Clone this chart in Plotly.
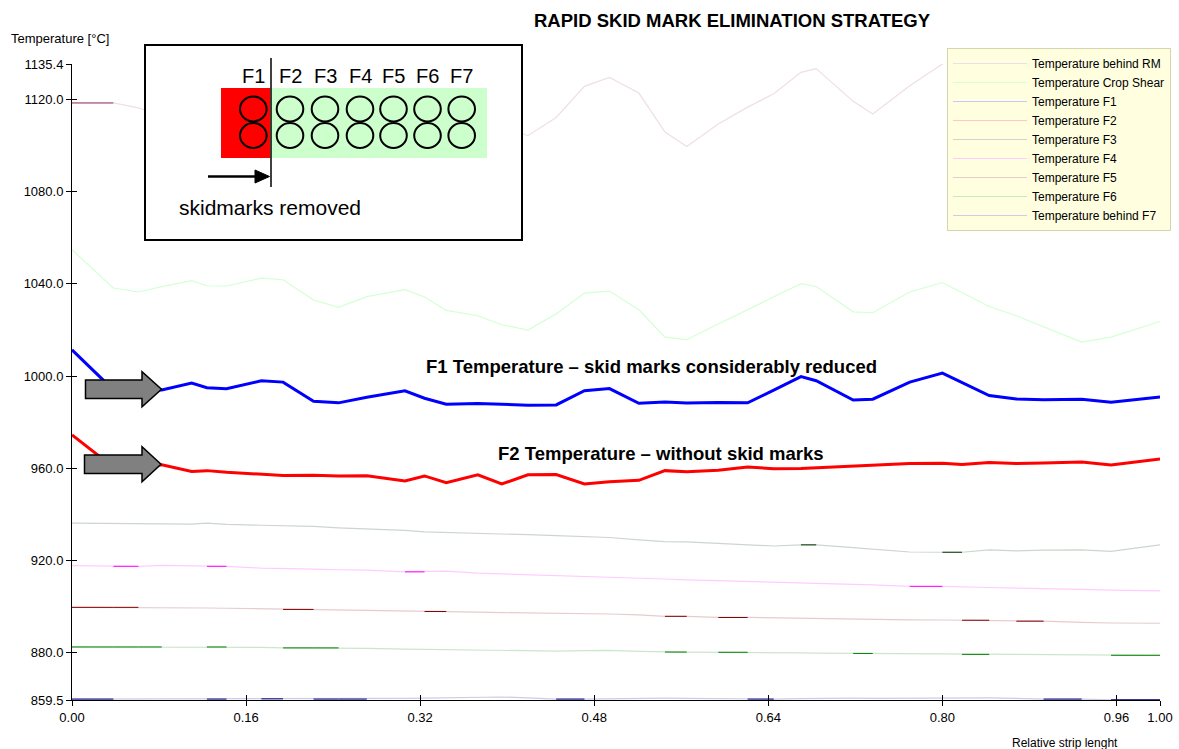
import plotly.graph_objects as go

# ---------------------------------------------------------------- data
# relative strip length at each logged sample
strip_pos = [0.000, 0.038, 0.061, 0.0825, 0.110, 0.124, 0.142, 0.174, 0.194, 0.222,
             0.245, 0.271, 0.306, 0.324, 0.344, 0.373, 0.395, 0.419, 0.445, 0.471,
             0.494, 0.521, 0.545, 0.565, 0.594, 0.621, 0.645, 0.670, 0.684, 0.718,
             0.736, 0.770, 0.800, 0.818, 0.843, 0.868, 0.893, 0.928, 0.955, 1.000]

temp_rm = [1118.5, 1118.5, 1116.4, 1113.0, 1110.5, 1112.0, 1114.5, 1110.0, 1106.5, 1109.0,
           1113.5, 1116.0, 1111.0, 1107.5, 1104.0, 1106.5, 1108.5, 1104.3, 1112.2, 1125.7,
           1129.6, 1122.8, 1105.9, 1099.6, 1109.4, 1116.7, 1122.5, 1131.8, 1133.4, 1119.2,
           1113.7, 1126.0, 1135.4, 1139.0, 1134.0, 1128.0, 1131.0, 1126.0, 1129.0, 1133.0]

temp_crop_shear = [1054.8, 1038.2, 1036.5, 1038.8, 1041.4, 1039.2, 1039.1, 1042.5, 1041.8, 1033.0,
                   1029.8, 1034.5, 1037.5, 1034.3, 1028.5, 1026.2, 1022.3, 1020.0, 1027.0, 1036.0,
                   1036.9, 1028.8, 1016.9, 1015.8, 1022.6, 1028.8, 1034.2, 1040.1, 1038.9, 1027.9,
                   1027.5, 1036.5, 1040.6, 1036.1, 1030.2, 1026.2, 1021.5, 1014.8, 1016.9, 1023.7]

temp_f1 = [1011.4, 994.0, 994.3, 994.0, 997.0, 995.0, 994.5, 998.0, 997.4, 989.1,
           988.4, 990.8, 993.6, 990.4, 987.8, 988.1, 987.8, 987.4, 987.5, 993.7,
           994.6, 988.2, 988.8, 988.3, 988.6, 988.4, 993.9, 999.8, 998.0, 989.6,
           990.0, 997.4, 1001.3, 997.3, 991.6, 990.1, 989.8, 990.0, 988.7, 990.9]

temp_f2 = [974.5, 960.5, 961.0, 961.5, 958.6, 959.0, 958.3, 957.5, 956.9, 957.0,
           956.7, 956.8, 954.5, 956.7, 953.8, 957.2, 953.2, 957.2, 957.3, 953.2,
           954.2, 954.8, 959.0, 958.5, 959.2, 960.6, 959.8, 959.9, 960.2, 961.1,
           961.5, 962.1, 962.2, 961.7, 962.5, 962.1, 962.3, 962.7, 961.4, 964.0]

temp_f3 = [936.2, 936.1, 936.2, 935.9, 935.8, 936.2, 935.7, 935.3, 935.2, 934.8,
           934.2, 933.7, 933.1, 932.4, 932.2, 931.9, 931.6, 931.2, 930.8, 930.4,
           930.0, 929.0, 928.2, 928.1, 927.5, 927.1, 926.3, 926.8, 926.8, 925.6,
           925.0, 923.7, 923.6, 923.6, 924.6, 924.2, 924.5, 924.6, 924.0, 926.8]

temp_f4 = [917.8, 917.5, 917.5, 917.9, 917.7, 917.5, 917.5, 916.7, 916.4, 916.3,
           916.0, 915.8, 915.1, 915.1, 915.4, 914.5, 914.2, 913.9, 913.5, 913.3,
           913.0, 912.5, 912.0, 911.6, 911.3, 911.0, 910.6, 910.3, 910.1, 909.7,
           909.4, 908.8, 908.8, 908.7, 908.3, 908.0, 907.9, 907.5, 907.2, 906.8]

temp_f5 = [899.7, 899.7, 899.7, 899.6, 899.5, 899.4, 899.3, 899.1, 898.8, 898.8,
           898.6, 898.5, 898.3, 897.9, 897.9, 897.6, 897.4, 897.3, 897.2, 897.1,
           896.8, 896.4, 895.8, 895.8, 895.3, 895.3, 895.1, 894.9, 894.8, 894.6,
           894.5, 894.3, 894.2, 894.1, 894.1, 893.7, 893.7, 893.2, 892.9, 892.8]

temp_f6 = [882.5, 882.5, 882.5, 882.5, 882.3, 882.5, 882.5, 882.3, 882.1, 882.1,
           882.1, 881.9, 881.6, 881.5, 881.3, 881.0, 880.9, 880.8, 880.7, 880.9,
           881.0, 880.6, 880.3, 880.3, 880.2, 880.2, 880.0, 879.9, 879.8, 879.7,
           879.7, 879.6, 879.5, 879.3, 879.3, 879.2, 879.1, 879.0, 878.9, 878.9]

temp_f7 = [859.9, 859.9, 860.1, 860.2, 860.1, 859.9, 859.9, 860.0, 860.0, 859.9,
           859.9, 859.9, 860.2, 860.3, 860.4, 860.6, 860.8, 860.4, 859.9, 859.9,
           860.1, 860.2, 860.3, 860.2, 860.1, 859.9, 859.9, 860.1, 860.2, 860.3,
           860.2, 860.3, 860.2, 860.3, 860.4, 860.2, 859.9, 859.9, 859.6, 859.6]

series_names = ["Temperature behind RM", "Temperature Crop Shear", "Temperature F1",
                "Temperature F2", "Temperature F3", "Temperature F4", "Temperature F5",
                "Temperature F6", "Temperature behind F7"]
series_values = [temp_rm, temp_crop_shear, temp_f1, temp_f2, temp_f3,
                 temp_f4, temp_f5, temp_f6, temp_f7]

x_ticks = [0.00, 0.16, 0.32, 0.48, 0.64, 0.80, 0.96, 1.00]
y_ticks = [859.5, 880.0, 920.0, 960.0, 1000.0, 1040.0, 1080.0, 1120.0, 1135.4]
y_range = [859.5, 1135.4]

stands = ["F1", "F2", "F3", "F4", "F5", "F6", "F7"]

# ---------------------------------------------------------------- styling
FONT = "Liberation Sans, Arial, Helvetica, sans-serif"
series_colors = ["#993366", "#00ff00", "#0000ff", "#ff0000", "#003300",
                 "#ff00ff", "#800000", "#008000", "#000080"]
series_tints = [0.16, 0.17, 0.22, 0.22, 0.2, 0.2, 0.2, 0.2, 0.2]
# series with hairline-style rendering get darker dashes on flat runs
hairline = [True, False, False, False, True, True, True, True, True]
highlight = {"Temperature F1": "#0000ff", "Temperature F2": "#ff0000"}

W, H = 1179, 749
ML, MR, MT, MB = 72, 19, 64, 49
PW, PH = W - ML - MR, H - MT - MB


def tint(hex_color, k=0.22):
    r, g, b = (int(hex_color[i:i + 2], 16) for i in (1, 3, 5))
    return "rgb(%d,%d,%d)" % tuple(round(255 - (255 - c) * k) for c in (r, g, b))


def fx(px):
    return (px - ML) / PW


def fy(py):
    return (H - MB - py) / PH


def flat_runs(xs, ys):
    sx, sy = [], []
    for i in range(len(ys) - 1):
        if ys[i] == ys[i + 1]:
            sx += [xs[i], xs[i + 1], None]
            sy += [ys[i], ys[i + 1], None]
    return sx, sy


fig = go.Figure()

for name, vals, col, k in zip(series_names, series_values, series_colors, series_tints):
    fig.add_trace(go.Scatter(x=strip_pos, y=vals, mode="lines", name=name,
                             line=dict(color=tint(col, k), width=1.2),
                             hoverinfo="skip"))

for name, vals, col, hl in zip(series_names, series_values, series_colors, hairline):
    if hl:
        sx, sy = flat_runs(strip_pos, vals)
        fig.add_trace(go.Scatter(x=sx, y=sy, mode="lines", showlegend=False,
                                 line=dict(color=col, width=1), hoverinfo="skip"))

for name, vals in zip(series_names, series_values):
    if name in highlight:
        fig.add_trace(go.Scatter(x=strip_pos, y=vals, mode="lines", showlegend=False,
                                 line=dict(color=highlight[name], width=3),
                                 hoverinfo="skip"))

# overlay axes carry the inner half of the crossing tick marks
fig.add_trace(go.Scatter(x=[None], y=[None], xaxis="x2", yaxis="y2",
                         showlegend=False, hoverinfo="skip"))

# ---------------------------------------------------------------- decorations
shapes = []
ann = []

# inset sketch of the finishing train
shapes.append(dict(type="rect", xref="paper", yref="paper", layer="above",
                   x0=fx(145), x1=fx(522), y0=fy(45), y1=fy(240),
                   line=dict(color="black", width=2), fillcolor="white"))
shapes.append(dict(type="rect", xref="paper", yref="paper", layer="above",
                   x0=fx(221), x1=fx(270), y0=fy(88), y1=fy(158),
                   line=dict(width=0), fillcolor="#ff0000"))
shapes.append(dict(type="rect", xref="paper", yref="paper", layer="above",
                   x0=fx(270), x1=fx(487), y0=fy(88), y1=fy(158),
                   line=dict(width=0), fillcolor="#ccffcc"))
roll_cx = [253.3, 290, 325, 360, 393.5, 427.5, 461.7]
for cx in roll_cx:
    for cy in (109, 135.5):
        shapes.append(dict(type="circle", xref="paper", yref="paper", layer="above",
                           x0=fx(cx - 13.3), x1=fx(cx + 13.3),
                           y0=fy(cy - 12.4), y1=fy(cy + 12.4),
                           line=dict(color="black", width=2)))
for cx, label in zip(roll_cx, stands):
    ann.append(dict(x=fx(cx), y=fy(76.5), xref="paper", yref="paper", text=label,
                    showarrow=False, xanchor="center", yanchor="middle",
                    font=dict(size=20, color="black", family=FONT)))
shapes.append(dict(type="line", xref="paper", yref="paper", layer="above",
                   x0=fx(271), x1=fx(271), y0=fy(58), y1=fy(187),
                   line=dict(color="black", width=1.5)))
shapes.append(dict(type="line", xref="paper", yref="paper", layer="above",
                   x0=fx(208), x1=fx(258), y0=fy(176.5), y1=fy(176.5),
                   line=dict(color="black", width=2.5)))
shapes.append(dict(type="path", xref="paper", yref="paper", layer="above",
                   path="M%f,%f L%f,%f L%f,%f Z" % (fx(255), fy(170), fx(269.5), fy(176.5),
                                                 fx(255), fy(183)),
                   fillcolor="black", line=dict(color="black", width=1)))
ann.append(dict(x=fx(176.5), y=fy(208), xref="paper", yref="paper",
                text="skidmarks removed", showarrow=False, xanchor="left",
                yanchor="middle", font=dict(size=21, color="black", family=FONT)))


# grey block arrows pointing at the F1 and F2 traces
def block_arrow(x0, x_neck, x_tip, y_mid, body_half, head_half):
    pts = [(x0, y_mid - body_half), (x_neck, y_mid - body_half), (x_neck, y_mid - head_half),
           (x_tip, y_mid), (x_neck, y_mid + head_half), (x_neck, y_mid + body_half),
           (x0, y_mid + body_half)]
    path = "M" + " L".join("%f,%f" % (fx(a), fy(b)) for a, b in pts) + " Z"
    return dict(type="path", xref="paper", yref="paper", layer="above", path=path,
                fillcolor="#808080", line=dict(color="black", width=1.5))


shapes.append(block_arrow(85.5, 142, 161.5, 389.2, 9.2, 17.5))
shapes.append(block_arrow(84.5, 142, 161, 464.2, 9.2, 17.5))

ann.append(dict(x=fx(651.5), y=fy(366), xref="paper", yref="paper",
                text="<b>F1 Temperature \u2013 skid marks considerably reduced</b>",
                showarrow=False, xanchor="center", yanchor="middle",
                font=dict(size=18.5, color="black", family=FONT)))
ann.append(dict(x=fx(660.5), y=fy(453), xref="paper", yref="paper",
                text="<b>F2 Temperature \u2013 without skid marks</b>",
                showarrow=False, xanchor="center", yanchor="middle",
                font=dict(size=18.5, color="black", family=FONT)))

# titles
ann.append(dict(x=fx(732), y=fy(20), xref="paper", yref="paper",
                text="<b>RAPID SKID MARK ELIMINATION STRATEGY</b>",
                showarrow=False, xanchor="center", yanchor="middle",
                font=dict(size=18.5, color="black", family=FONT)))
ann.append(dict(x=fx(9), y=fy(38.5), xref="paper", yref="paper",
                text="Temperature [\u00b0C]", showarrow=False, xanchor="left",
                yanchor="middle", font=dict(size=13, color="black", family=FONT)))
ann.append(dict(x=fx(1064.5), y=fy(742.5), xref="paper", yref="paper",
                text="Relative strip lenght", showarrow=False, xanchor="center",
                yanchor="middle", font=dict(size=12, color="black", family=FONT)))

axis_common = dict(showgrid=False, zeroline=False, tickcolor="black", ticklen=5,
                   tickwidth=1)

fig.update_layout(
    width=W, height=H,
    margin=dict(l=ML, r=MR, t=MT, b=MB, autoexpand=False),
    paper_bgcolor="white", plot_bgcolor="white",
    font=dict(family=FONT, size=13, color="black"),
    showlegend=True,
    legend=dict(x=fx(947), y=fy(48), xanchor="left", yanchor="top",
                bgcolor="#ffffe0", bordercolor="#d6d6ae", borderwidth=1,
                font=dict(size=12, family=FONT, color="black"),
                itemwidth=74, tracegroupgap=0),
    xaxis=dict(range=[0, 1], tickvals=x_ticks,
               ticktext=["%.2f" % v for v in x_ticks], ticks="outside",
               showline=True, linecolor="black", linewidth=1,
               tickfont=dict(size=13), **axis_common),
    yaxis=dict(range=y_range, tickvals=y_ticks,
               ticktext=["%.1f" % v for v in y_ticks], ticks="outside",
               showline=True, linecolor="black", linewidth=1,
               tickfont=dict(size=13), **axis_common),
    xaxis2=dict(range=[0, 1], tickvals=x_ticks, ticks="inside", overlaying="x",
                anchor="y2", side="bottom", showticklabels=False, showline=False,
                **axis_common),
    yaxis2=dict(range=y_range, tickvals=y_ticks, ticks="inside", overlaying="y",
                anchor="x2", side="left", showticklabels=False, showline=False,
                **axis_common),
    shapes=shapes,
    annotations=ann,
)

fig.write_html("out.html")
